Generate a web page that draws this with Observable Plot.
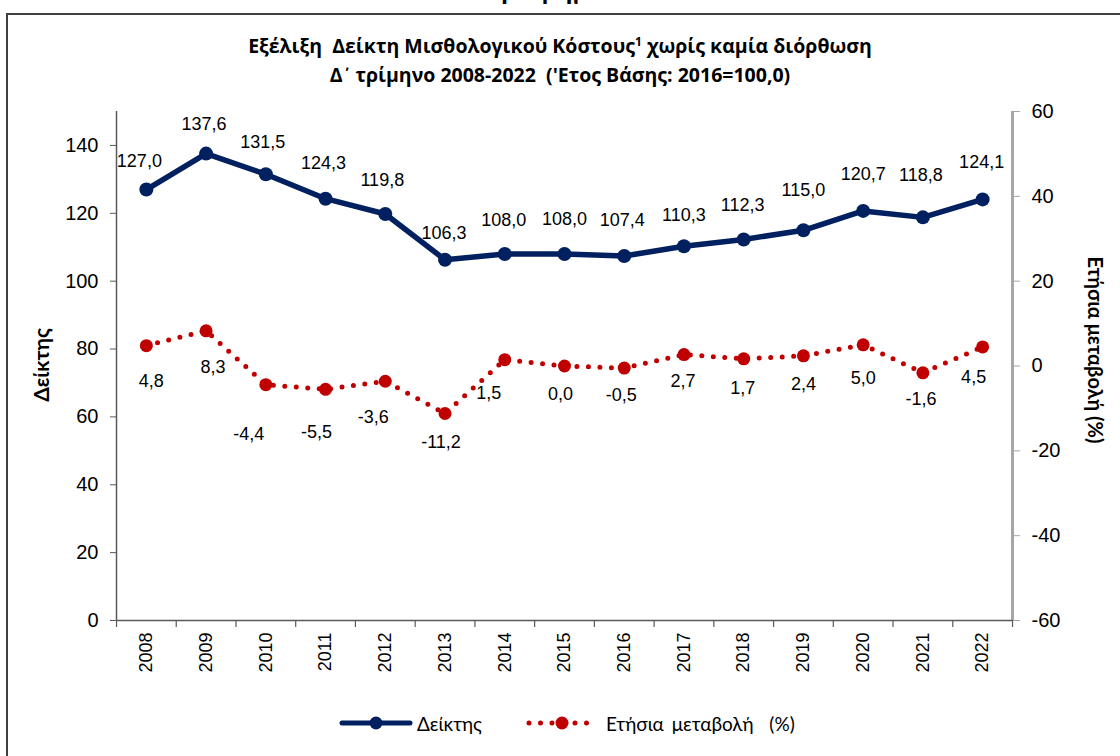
<!DOCTYPE html>
<html><head><meta charset="utf-8">
<script src="https://cdn.jsdelivr.net/npm/d3@7"></script>
<script src="https://cdn.jsdelivr.net/npm/@observablehq/plot@0.6"></script>
<style>
body{margin:0;background:#fff;}
#wrap{position:relative;width:1120px;height:756px;overflow:hidden;font-family:Lato,"Open Sans",sans-serif;color:#000;}
#frame{position:absolute;left:6px;top:13px;width:1300px;height:900px;border-top:2px solid #404040;border-left:2px solid #404040;}
#cut{position:absolute;top:-29px;left:0;width:1120px;text-align:center;font-weight:bold;font-size:28px;line-height:34px;}
#title{position:absolute;top:31px;left:0;width:1120px;text-align:center;font-family:"Open Sans",Lato,sans-serif;font-weight:bold;font-size:19.5px;line-height:29px;}
#title sup{font-size:12px;vertical-align:7px;line-height:0;}
#title .tn{font-family:Lato,sans-serif;}
#chart{position:absolute;left:0;top:0;}
.ytitle{position:absolute;font-weight:bold;font-size:21px;white-space:nowrap;}
#ylt{left:40px;top:365px;transform:translate(-50%,-50%) rotate(-90deg);}
#yrt{left:1096px;top:350px;font-size:20px;transform:translate(-50%,-50%) rotate(90deg);}
#legend{position:absolute;top:711px;left:338px;display:flex;align-items:center;font-size:19px;white-space:nowrap;}
#legend svg{display:block;}
</style></head>
<body><div id="wrap">
<div id="cut">Γράφημα 1</div>
<div id="frame"></div>
<div id="title">Εξέλιξη&nbsp; Δείκτη Μισθολογικού Κόστους<sup>1</sup> χωρίς καμία διόρθωση<br>Δ<span class="tn">΄</span> τρίμηνο 2008-2022&nbsp; ('Ετος Βάσης: 2016=100,0)</div>
<div id="chart"></div>
<div class="ytitle" id="ylt">Δείκτης</div>
<div class="ytitle" id="yrt">Ετήσια μεταβολή (%)</div>
<div id="legend">
  <svg width="76" height="24"><line x1="4" y1="12" x2="72" y2="12" stroke="#002060" stroke-width="5" stroke-linecap="round"/><circle cx="38" cy="12" r="6.5" fill="#002060"/></svg>
  <span style="margin-left:3px">Δείκτης</span>
  <svg width="76" height="24" style="margin-left:42px"><line x1="5" y1="12" x2="70" y2="12" stroke="#c00000" stroke-width="5" stroke-linecap="round" stroke-dasharray="0 11.5"/><circle cx="38" cy="12" r="6.5" fill="#c00000"/></svg>
  <span style="margin-left:6px;word-spacing:3px">Ετήσια μεταβολή&nbsp; (%)</span>
</div>
</div>
<script>
// ---- data ----
const years = ["2008","2009","2010","2011","2012","2013","2014","2015","2016","2017","2018","2019","2020","2021","2022"];
const indexValues = [127.0,137.6,131.5,124.3,119.8,106.3,108.0,108.0,107.4,110.3,112.3,115.0,120.7,118.8,124.1];
const changeValues = [4.8,8.3,-4.4,-5.5,-3.6,-11.2,1.5,0.0,-0.5,2.7,1.7,2.4,5.0,-1.6,4.5];
const leftTicks = [0,20,40,60,80,100,120,140];
const rightTicks = [-60,-40,-20,0,20,40,60];

// ---- layout ----
const W = 1120, H = 756, ML = 116, MR = 108, MT = 111, MB = 136;
const step = (W - ML - MR) / years.length;
const LEFT_MAX = 150, RIGHT_MIN = -60, RIGHT_MAX = 60;
const toLeft = v => (v - RIGHT_MIN) / (RIGHT_MAX - RIGHT_MIN) * LEFT_MAX;
const fromLeft = v => v / LEFT_MAX * (RIGHT_MAX - RIGHT_MIN) + RIGHT_MIN;
const fmt = v => v.toFixed(1).replace(".", ",");
// label placement nudges (pixels), mimicking the original label placement
const idxNudge = [[-7,-28],[-2,-29],[-3,-32],[-2,-35],[-3,-34],[-1,-27],[-1,-34],[0,-35],[-2,-36],[0,-31],[-1,-34],[0,-40],[0,-37],[-2,-42],[-1,-37]];
const chgNudge = [[5,36],[7,36],[-17,50],[-9,43],[-12,36],[-4,29],[-16,34],[-4,28],[-3,27],[-1,27],[-1,29],[0,28],[0,33],[-2,26],[-9,30]];

const data = years.map((y, i) => ({year: y, index: indexValues[i], change: changeValues[i], i}));

const gridCol = "#595959", rightCol = "#a6a6a6";
const navy = "#002060", red = "#c00000";
const font = "'Liberation Sans', Arial, sans-serif";

const marks = [
  Plot.ruleY([0], {stroke: gridCol, strokeWidth: 1.5}),
  Plot.ruleX([years[0]], {dx: -step/2, y1: 0, y2: LEFT_MAX, stroke: gridCol, strokeWidth: 1.5}),
  Plot.ruleX([years[years.length-1]], {dx: step/2, y1: 0, y2: LEFT_MAX, stroke: rightCol, strokeWidth: 3}),
  Plot.ruleX(years, {x: d => d, dx: -step/2, y1: 0, y2: 0, insetBottom: -7, stroke: gridCol, strokeWidth: 1.2}),
  Plot.ruleX([years[years.length-1]], {x: d => d, dx: step/2, y1: 0, y2: 0, insetBottom: -7, stroke: gridCol, strokeWidth: 1.2}),
  Plot.axisY({anchor: "left", ticks: leftTicks, tickSize: 6, tickPadding: 12, fontSize: 20, stroke: gridCol, fill: "#000", label: null, fontFamily: font}),
  Plot.axisY({anchor: "right", ticks: rightTicks.map(toLeft), tickFormat: v => String(Math.round(fromLeft(v))), tickSize: 7, tickPadding: 12, fontSize: 20, stroke: rightCol, fill: "#000", label: null, fontFamily: font}),
  Plot.axisX({tickSize: 0, tickRotate: -90, tickPadding: 12, fontSize: 18, fill: "#000", label: null, fontFamily: font}),
  Plot.line(data, {x: "year", y: d => toLeft(d.change), stroke: red, strokeWidth: 5, strokeDasharray: "0 11.5", strokeLinecap: "round"}),
  Plot.dot(data, {x: "year", y: d => toLeft(d.change), r: 6.5, fill: red}),
  Plot.line(data, {x: "year", y: "index", stroke: navy, strokeWidth: 5.5, strokeLinejoin: "round"}),
  Plot.dot(data, {x: "year", y: "index", r: 7, fill: navy}),
  ...data.map(d => Plot.text([d], {x: "year", y: "index", text: d => fmt(d.index), dx: idxNudge[d.i][0], dy: idxNudge[d.i][1], fontSize: 18, fill: "#000", fontFamily: font})),
  ...data.map(d => Plot.text([d], {x: "year", y: d => toLeft(d.change), text: d => fmt(d.change), dx: chgNudge[d.i][0], dy: chgNudge[d.i][1], fontSize: 18, fill: "#000", fontFamily: font}))
];

const chart = Plot.plot({
  width: W, height: H,
  marginLeft: ML, marginRight: MR, marginTop: MT, marginBottom: MB,
  style: {background: "transparent", fontFamily: font, color: "#000", overflow: "visible"},
  x: {type: "point", domain: years, padding: 0.5, round: false},
  y: {domain: [0, LEFT_MAX]},
  marks
});
document.getElementById("chart").appendChild(chart);
</script>
</body></html>
